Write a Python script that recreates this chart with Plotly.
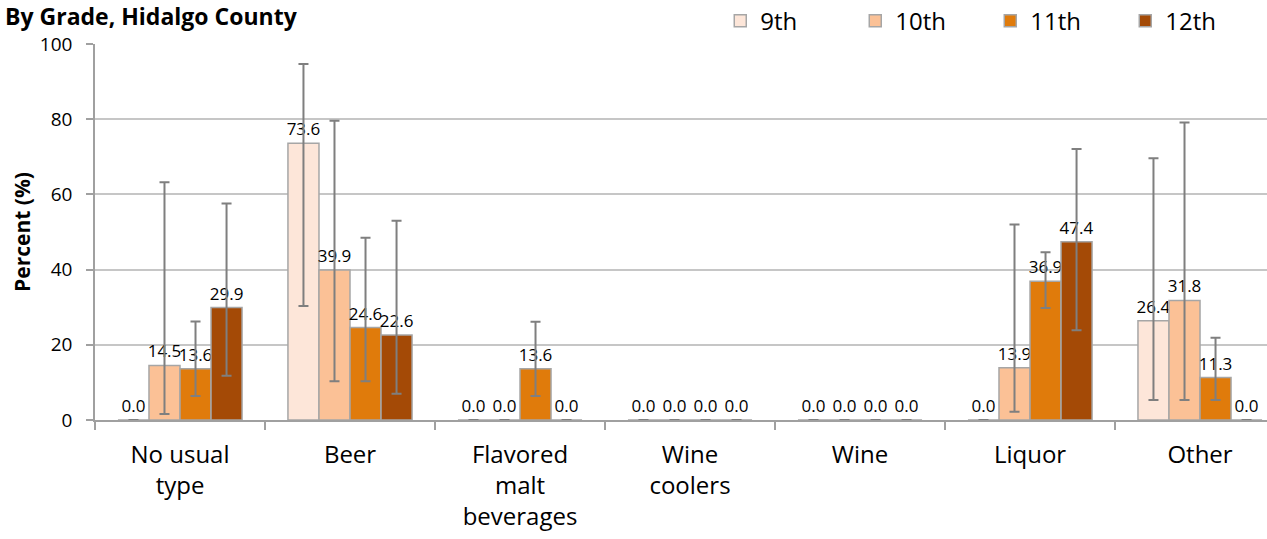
import plotly.graph_objects as go

categories = ["No usual<br>type", "Beer", "Flavored<br>malt<br>beverages", "Wine<br>coolers", "Wine", "Liquor", "Other"]
grades = ["9th", "10th", "11th", "12th"]

val_9th = [0.0, 73.6, 0.0, 0.0, 0.0, 0.0, 26.4]
val_10th = [14.5, 39.9, 0.0, 0.0, 0.0, 13.9, 31.8]
val_11th = [13.6, 24.6, 13.6, 0.0, 0.0, 36.9, 11.3]
val_12th = [29.9, 22.6, 0.0, 0.0, 0.0, 47.4, 0.0]

# confidence interval bounds (upper, lower); None where no interval
hi_9th = [None, 94.7, None, None, None, None, 69.6]
lo_9th = [None, 30.3, None, None, None, None, 5.3]
hi_10th = [63.2, 79.6, None, None, None, 52.0, 79.1]
lo_10th = [1.6, 10.3, None, None, None, 2.2, 5.3]
hi_11th = [26.2, 48.5, 26.1, None, None, 44.6, 21.9]
lo_11th = [6.4, 10.3, 6.4, None, None, 29.8, 5.3]
hi_12th = [57.6, 53.0, None, None, None, 72.1, None]
lo_12th = [11.8, 7.0, None, None, None, 23.9, None]

colors = ["#FDE6D9", "#FBC196", "#E07B0B", "#A44A06"]

series = [
    (val_9th, hi_9th, lo_9th),
    (val_10th, hi_10th, lo_10th),
    (val_11th, hi_11th, lo_11th),
    (val_12th, hi_12th, lo_12th),
]

FONT = "Open Sans"

fig = go.Figure()
for name, color, (vals, his, los) in zip(grades, colors, series):
    plus = [(h - v) if h is not None else 0 for v, h in zip(vals, his)]
    minus = [(v - l) if l is not None else 0 for v, l in zip(vals, los)]
    fig.add_trace(go.Bar(
        name=name,
        x=categories,
        y=vals,
        marker=dict(color=color, line=dict(color="#A6A6A6", width=1.5)),
        text=[f"{v:.1f}" for v in vals],
        textposition="outside",
        textfont=dict(family=FONT, size=17, color="#000000"),
        constraintext="none",
        cliponaxis=False,
        error_y=dict(type="data", symmetric=False, array=plus, arrayminus=minus,
                     color="#7F7F7F", thickness=2, width=5),
    ))

fig.update_layout(
    width=1267, height=539,
    margin=dict(l=95, r=0, t=44, b=119, autoexpand=False),
    paper_bgcolor="white", plot_bgcolor="white",
    barmode="group", bargap=0.27, bargroupgap=0,
    title=dict(text="<b>By Grade, Hidalgo County</b>", font=dict(family=FONT, size=23, color="#000000"),
               xref="container", x=0.004, xanchor="left", yref="container", y=0.984, yanchor="top",
               automargin=False),
    legend=dict(orientation="h", x=0.5335, xanchor="left", y=1.061, yanchor="middle",
                font=dict(family=FONT, size=24, color="#000000"),
                entrywidth=90, entrywidthmode="pixels", bgcolor="rgba(0,0,0,0)"),
    showlegend=True,
)

fig.update_xaxes(
    range=[-0.5, 6.394], automargin=False,
    showline=True, linecolor="#A0A0A0", linewidth=1.5,
    ticks="outside", tickson="boundaries", ticklen=8, tickcolor="#A0A0A0", tickwidth=1.5,
    tickfont=dict(family=FONT, size=24, color="#000000"),
    ticklabelstandoff=12,
    showgrid=False,
)
fig.update_yaxes(
    range=[0, 100], dtick=20, automargin=False,
    showline=True, linecolor="#A0A0A0", linewidth=1.5,
    ticks="outside", ticklen=7, tickcolor="#A0A0A0", tickwidth=1.5,
    tickfont=dict(family=FONT, size=19, color="#000000"),
    ticklabelstandoff=10,
    showgrid=True, gridcolor="#C6C6C6", gridwidth=1.5,
    zeroline=False,
    title=dict(text="<b>Percent (%)</b>", font=dict(family=FONT, size=21, color="#000000"), standoff=4),
)

fig.write_html("out.html", config={"displayModeBar": False},
               post_script="document.body.style.margin='0';")
